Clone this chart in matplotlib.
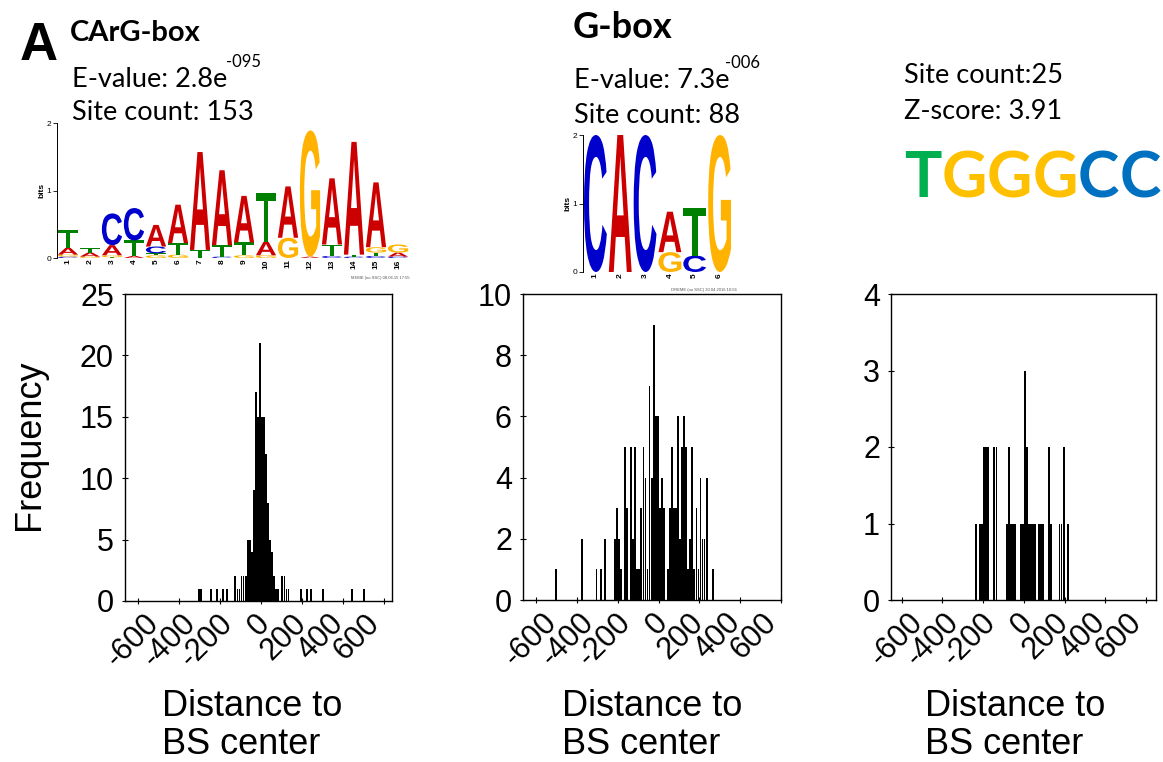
import matplotlib
matplotlib.use('Agg')
import matplotlib.pyplot as plt
from matplotlib.font_manager import FontProperties
from matplotlib.textpath import TextPath
from matplotlib.patches import PathPatch
from matplotlib.transforms import Affine2D

W, H = 1163, 762

# histogram data: bin centre (distance to binding-site centre) and count
carg_centers = [-305, -295, -245, -215, -185, -165, -125, -115, -105, -95, -85, -75,
                -65, -55, -45, -35, -25, -15, -5, 5, 15, 25, 35, 45, 55, 65, 75, 85,
                105, 115, 125, 135, 195, 225, 245, 305, 445, 505]
carg_counts = [1, 1, 1, 1, 1, 1, 2, 1, 1, 2, 2, 2,
               5, 5, 4, 9, 17, 15, 21, 15, 15, 12, 8, 5, 4, 2, 1, 1,
               2, 2, 1, 1, 1, 1, 1, 1, 1, 1]

gbox_centers = [-505, -375, -305, -285, -265, -215, -205, -195, -185, -165, -155, -135,
                -125, -115, -105, -95, -85, -75, -65, -55, -45, -35, -25, -15, -5,
                5, 15, 25, 45, 55, 65, 75, 85, 95, 105, 115, 125, 135, 145, 155,
                165, 175, 185, 195, 205, 215, 225, 235, 265]
gbox_counts = [1, 2, 1, 1, 2, 2, 3, 2, 1, 5, 3, 5,
               2, 5, 1, 1, 3, 5, 4, 1, 7, 4, 9, 6, 6,
               3, 4, 3, 1, 3, 5, 3, 3, 6, 2, 5, 6, 5, 1, 2,
               5, 1, 3, 1, 4, 2, 2, 4, 1]

tggg_centers = [-235, -215, -205, -195, -185, -175, -145, -135, -85, -75, -65, -55,
                -45, -15, -5, 5, 15, 25, 35, 45, 55, 75, 85, 95, 125, 135, 175, 185,
                195, 215]
tggg_counts = [1, 1, 1, 2, 2, 2, 2, 2, 1, 2, 1, 1,
               1, 1, 1, 3, 2, 1, 1, 1, 1, 1, 1, 1, 2, 1, 1, 1,
               2, 1]

x_ticks = [-600, -400, -200, 0, 200, 400, 600]

# motif logos: letters of each column from bottom to top, heights in bits
carg_letters = ['CGAT', 'GAT', 'TGAC', 'ATC', 'GTCA', 'GTA', 'TA', 'CTA',
                'GTA', 'GAT', 'GA', 'AG', 'CTA', 'CTA', 'CTGA', 'CAG']
carg_bits = [[0.02, 0.03, 0.10, 0.27], [0.02, 0.06, 0.07], [0.01, 0.03, 0.15, 0.47],
             [0.03, 0.23, 0.48], [0.04, 0.03, 0.10, 0.32], [0.05, 0.17, 0.57],
             [0.12, 1.45], [0.02, 0.17, 1.11], [0.04, 0.19, 0.69], [0.04, 0.20, 0.72],
             [0.30, 0.76], [0.02, 1.87], [0.03, 0.17, 0.98], [0.02, 0.03, 1.67],
             [0.03, 0.05, 0.08, 0.96], [0.02, 0.06, 0.12]]
gbox_letters = ['C', 'A', 'C', 'GA', 'CT', 'G']
gbox_bits = [[2.0], [2.0], [2.0], [0.29, 0.59], [0.24, 0.69], [2.0]]

logo_colors = {'A': '#CC0000', 'C': '#0000CC', 'G': '#FFB300', 'T': '#008000'}

motif = 'TGGGCC'
motif_colors = {'T': '#00B050', 'G': '#FFC000', 'C': '#0070C0'}

plt.rcParams['font.family'] = ['Liberation Sans', 'DejaVu Sans']
plt.rcParams['axes.unicode_minus'] = False
fig = plt.figure(figsize=(W / 100, H / 100), dpi=100)


def rect(x0, y0, x1, y1):
    # pixel box (top-left origin) -> figure fraction rect
    return [x0 / W, 1 - y1 / H, (x1 - x0) / W, (y1 - y0) / H]


def ftext(x, y, s, **kw):
    return fig.text(x / W, 1 - y / H, s, va='baseline', **kw)


LOGO_FP = FontProperties(family='Liberation Sans', weight='bold')


def draw_letter(ax, ch, x, y, w, h):
    tp = TextPath((0, 0), ch, size=1, prop=LOGO_FP)
    bb = tp.get_extents()
    tr = Affine2D().translate(-bb.x0, -bb.y0).scale(w / bb.width, h / bb.height).translate(x - w / 2, y)
    ax.add_patch(PathPatch(tr.transform_path(tp), fc=logo_colors[ch], ec='none'))


def logo(box, letters, bits):
    ax = fig.add_axes(rect(*box))
    for i, (col, hs) in enumerate(zip(letters, bits)):
        y = 0
        for ch, h in zip(col, hs):
            draw_letter(ax, ch, i + 1, y, 0.92, h)
            y += h
    ax.set_xlim(0.5, len(letters) + 0.5)
    ax.set_ylim(0, 2)
    for s in ['top', 'right', 'bottom']:
        ax.spines[s].set_visible(False)
    ax.spines['left'].set_linewidth(0.7)
    ax.set_yticks([0, 1, 2])
    ax.set_xticks(range(1, len(letters) + 1))
    ax.set_xticklabels([str(i) for i in range(1, len(letters) + 1)], rotation=90,
                       fontsize=6, fontweight='bold')
    ax.tick_params(axis='y', labelsize=6, length=3, width=0.6, pad=1)
    ax.tick_params(axis='x', length=0, pad=1)
    ax.set_ylabel('bits', fontsize=6, fontweight='bold', labelpad=1)
    return ax


logo((57, 123, 409, 258), carg_letters, carg_bits)
logo((583, 135, 732, 272), gbox_letters, gbox_bits)
ftext(410, 279, 'MEME (no SSC) 08.06.15 17:55', fontsize=3, ha='right', color='#555555')
ftext(737, 291, 'DREME (no SSC) 30.04.2016 10:56', fontsize=3, ha='right', color='#555555')


def hist(box, centers, counts, ymax, ystep, xlim):
    ax = fig.add_axes(rect(*box))
    ax.bar(centers, counts, width=9, color='black', edgecolor='none')
    ax.set_xlim(*xlim)
    ax.set_ylim(0, ymax)
    ax.set_xticks(x_ticks)
    ax.set_xticklabels([])
    ax.set_yticks(range(0, ymax + 1, ystep))
    ax.tick_params(direction='inout', length=4, width=0.8, labelsize=22, pad=6)
    # rotated labels, pinned at their right end like the original
    for v in x_ticks:
        ax.annotate(str(v), xy=(v, 0), xycoords=('data', 'axes fraction'),
                    xytext=(4 - v * 12.5 / 600, -18), textcoords='offset pixels',
                    rotation=45, rotation_mode='anchor', ha='right', va='center',
                    fontsize=22)
    for s in ax.spines.values():
        s.set_linewidth(1.0)
    return ax


hist((125, 294, 392, 601), carg_centers, carg_counts, 25, 5, (-665, 641))
hist((523, 294, 781, 600), gbox_centers, gbox_counts, 10, 2, (-666, 600))
hist((891, 294, 1156, 600), tggg_centers, tggg_counts, 4, 1, (-653, 649))

fig.text(30 / W, 1 - 445 / H, 'Frequency', rotation=90, fontsize=26, ha='center', va='center')
for x0 in [162, 562, 925]:
    ftext(x0, 716, 'Distance to', fontsize=26)
    ftext(x0, 754, 'BS center', fontsize=26)

# headers in a Calibri-like face
HF = ['Lato', 'DejaVu Sans']
ftext(20, 60, 'A', fontsize=38, fontweight='bold')
ftext(70, 41, 'CArG-box', fontsize=21, fontweight='bold', family=HF)
ftext(72, 87, 'E-value: 2.8e', fontsize=19.5, family=HF)
ftext(226, 67, '-095', fontsize=12, family=HF)
ftext(72, 120, 'Site count: 153', fontsize=19.5, family=HF)

ftext(573, 38, 'G-box', fontsize=26, fontweight='bold', family=HF)
ftext(574, 88, 'E-value: 7.3e', fontsize=19.5, family=HF)
ftext(725, 68, '-006', fontsize=12, family=HF)
ftext(574, 123, 'Site count: 88', fontsize=19.5, family=HF)

ftext(904, 83, 'Site count:25', fontsize=19.5, family=HF)
ftext(904, 119, 'Z-score: 3.91', fontsize=19.5, family=HF)

# coloured consensus, one letter after another
renderer = fig.canvas.get_renderer()
x = 904
for ch in motif:
    t = ftext(x, 197, ch, fontsize=45, fontweight='bold', family=HF, color=motif_colors[ch])
    x = t.get_window_extent(renderer).x1

fig.savefig('out.png', dpi=100)
